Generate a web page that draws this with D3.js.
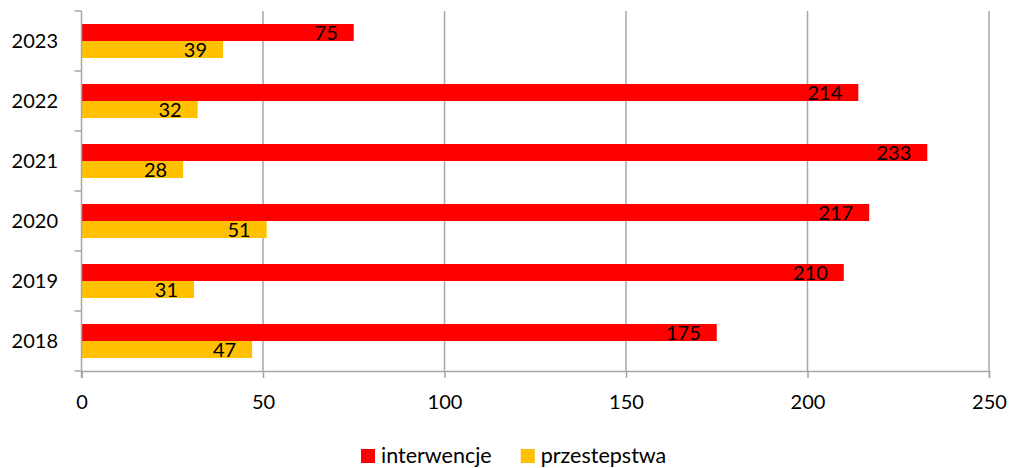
<!DOCTYPE html>
<html>
<head>
<meta charset="utf-8">
<script src="https://cdn.jsdelivr.net/npm/d3@7"></script>
<style>
  body { margin: 0; background: #fff; }
  svg { display: block; font-family: Lato, "Open Sans", sans-serif; }
</style>
</head>
<body>
<svg id="chart"></svg>
<script>
// data
var years = ['2023', '2022', '2021', '2020', '2019', '2018'];
var seriesNames = ['interwencje', 'przestepstwa'];
var interwencje = [75, 214, 233, 217, 210, 175];
var przestepstwa = [39, 32, 28, 51, 31, 47];
var xTicks = [0, 50, 100, 150, 200, 250];

var colors = ['#ff0000', '#ffc000'];
var width = 1010, height = 468;
var margin = {top: 11, left: 81.5, right: 21, bottom: 97};
var fontSize = 20;

var svg = d3.select('#chart')
  .attr('width', width)
  .attr('height', height);

var x = d3.scaleLinear()
  .domain([0, 250])
  .range([margin.left, width - margin.right]);

var y0 = d3.scaleBand()
  .domain(years)
  .range([margin.top, height - margin.bottom])
  .padding(0);

var y1 = d3.scaleBand()
  .domain(seriesNames)
  .range([13, y0.bandwidth() - 13])
  .padding(0);

var z = d3.scaleOrdinal().domain(seriesNames).range(colors);

var rows = years.map(function(yr, i) {
  return {year: yr, values: [
    {key: seriesNames[0], value: interwencje[i]},
    {key: seriesNames[1], value: przestepstwa[i]}
  ]};
});

var gridColor = '#a6a6a6';
var plotTop = margin.top, plotBottom = height - margin.bottom;

// vertical gridlines
svg.append('g')
  .selectAll('line')
  .data(xTicks.slice(1))
  .enter().append('line')
    .attr('x1', function(d) { return x(d); })
    .attr('x2', function(d) { return x(d); })
    .attr('y1', plotTop)
    .attr('y2', plotBottom)
    .attr('stroke', gridColor)
    .attr('stroke-width', 1.5);

// bars
var groups = svg.append('g')
  .selectAll('g')
  .data(rows)
  .enter().append('g')
    .attr('transform', function(d) { return 'translate(0,' + y0(d.year) + ')'; });

groups.selectAll('rect')
  .data(function(d) { return d.values; })
  .enter().append('rect')
    .attr('x', x(0))
    .attr('y', function(d) { return y1(d.key); })
    .attr('width', function(d) { return x(d.value) - x(0); })
    .attr('height', y1.bandwidth())
    .attr('fill', function(d) { return z(d.key); });

// value labels (inside end)
groups.selectAll('text')
  .data(function(d) { return d.values; })
  .enter().append('text')
    .attr('x', function(d) { return x(d.value) - 16; })
    .attr('y', function(d) { return y1(d.key) + y1.bandwidth() / 2; })
    .attr('dy', '0.36em')
    .attr('text-anchor', 'end')
    .attr('font-size', fontSize)
    .attr('fill', '#000')
    .text(function(d) { return d.value; });

// y axis
var yAxis = svg.append('g').attr('class', 'y-axis');
yAxis.append('line')
  .attr('x1', x(0)).attr('x2', x(0))
  .attr('y1', plotTop).attr('y2', plotBottom + 7)
  .attr('stroke', gridColor).attr('stroke-width', 1.5);
yAxis.selectAll('line.tick')
  .data(years.concat(['end']))
  .enter().append('line')
    .attr('class', 'tick')
    .attr('x1', x(0) - 7).attr('x2', x(0))
    .attr('y1', function(d) { return d === 'end' ? plotBottom : y0(d); })
    .attr('y2', function(d) { return d === 'end' ? plotBottom : y0(d); })
    .attr('stroke', gridColor).attr('stroke-width', 1.5);
yAxis.selectAll('text')
  .data(years)
  .enter().append('text')
    .attr('x', 58)
    .attr('y', function(d) { return y0(d) + y0.bandwidth() / 2; })
    .attr('dy', '0.36em')
    .attr('text-anchor', 'end')
    .attr('font-size', fontSize)
    .text(function(d) { return d; });

// x axis
var xAxis = svg.append('g')
  .attr('class', 'x-axis')
  .attr('transform', 'translate(0,' + plotBottom + ')')
  .call(d3.axisBottom(x).tickValues(xTicks).tickSize(7).tickPadding(0));
xAxis.select('.domain').attr('stroke', gridColor).attr('stroke-width', 1.5);
xAxis.selectAll('.tick line').attr('stroke', gridColor).attr('stroke-width', 1.5);
xAxis.selectAll('.tick text')
  .attr('y', 38)
  .attr('dy', 0)
  .attr('font-size', fontSize)
  .attr('font-family', 'Lato, "Open Sans", sans-serif')
  .attr('fill', '#000');

// legend
var legend = svg.append('g').attr('transform', 'translate(361,449)');
var lx = 0;
seriesNames.forEach(function(name) {
  var item = legend.append('g').attr('transform', 'translate(' + lx + ',0)');
  item.append('rect')
    .attr('width', 14).attr('height', 14)
    .attr('fill', z(name));
  var t = item.append('text')
    .attr('x', 20)
    .attr('y', 14)
    .attr('font-size', 21.5)
    .text(name);
  lx += 20 + t.node().getComputedTextLength() + 29;
});
</script>
</body>
</html>
